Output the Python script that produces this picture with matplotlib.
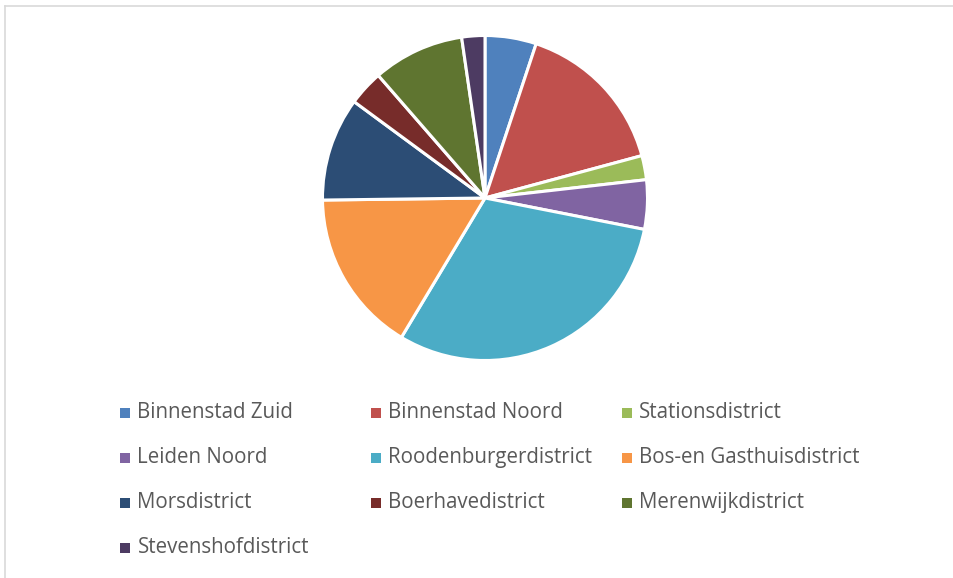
import matplotlib.pyplot as plt
from matplotlib.lines import Line2D

plt.rcParams['font.family'] = ['Open Sans', 'DejaVu Sans']

districts = [
    "Binnenstad Zuid", "Binnenstad Noord", "Stationsdistrict",
    "Leiden Noord", "Roodenburgerdistrict", "Bos-en Gasthuisdistrict",
    "Morsdistrict", "Boerhavedistrict", "Merenwijkdistrict",
    "Stevenshofdistrict",
]
shares = [5.1, 15.7, 2.4, 4.9, 30.5, 16.2, 10.3, 3.5, 9.1, 2.3]
colors = [
    "#4F81BD", "#C0504D", "#9BBB59", "#8064A2", "#4BACC6",
    "#F79646", "#2C4D75", "#772C2A", "#5F7530", "#4D3B62",
]

W, H = 954, 578
fig = plt.figure(figsize=(W / 100, H / 100), dpi=100)

# pie axes, centre (485, 198) px, radius ~162 px
cx, cy, r = 485, 198, 162.5
ax = fig.add_axes([(cx - r) / W, (H - cy - r) / H, 2 * r / W, 2 * r / H])
ax.pie(shares, colors=colors, startangle=90, counterclock=False,
       wedgeprops={"edgecolor": "white", "linewidth": 2.2})
ax.set_aspect("equal")
ax.set_xlim(-1, 1)
ax.set_ylim(-1, 1)
ax.axis("off")

# legend laid out like the office chart: 3 columns, row by row
lax = fig.add_axes([0, 0, 1, 1])
lax.set_xlim(0, W)
lax.set_ylim(H, 0)
lax.axis("off")
col_x = [125.5, 376.5, 627]
row_y0, row_step = 412.5, 45
for i, (name, c) in enumerate(zip(districts, colors)):
    row, col = divmod(i, 3)
    y = row_y0 + row * row_step
    lax.scatter([col_x[col]], [y], marker="s", s=60, color=c, linewidths=0)
    lax.text(col_x[col] + 12, y, name, va="center", ha="left",
             fontsize=14.8, color="#595959")

# light chart border (top and left edges visible)
fig.add_artist(Line2D([5 / W, 1], [1 - 6 / H, 1 - 6 / H], color="#D9D9D9", lw=1.2))
fig.add_artist(Line2D([5 / W, 5 / W], [0, 1 - 6 / H], color="#D9D9D9", lw=1.2))

fig.savefig("out.png", dpi=100)
